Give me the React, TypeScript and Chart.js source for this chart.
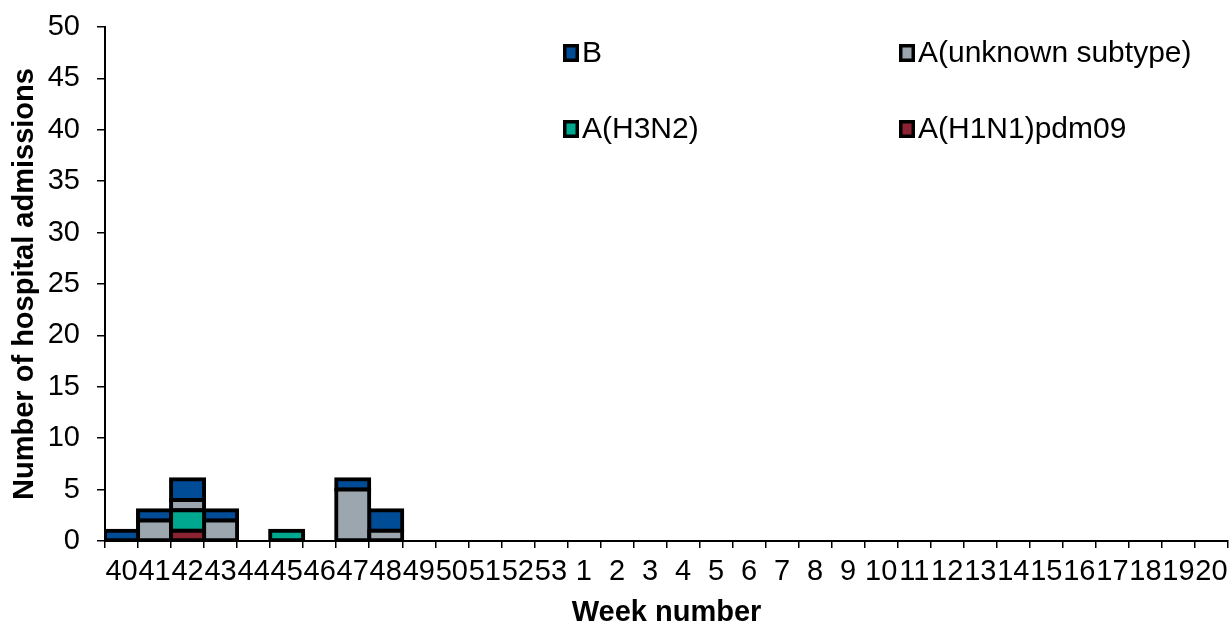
import React, { useEffect, useRef } from "react";
import { Chart, registerables } from "chart.js";

Chart.register(...registerables);

const weeks: string[] = [
  "40", "41", "42", "43", "44", "45", "46", "47", "48", "49", "50", "51", "52", "53",
  "1", "2", "3", "4", "5", "6", "7", "8", "9", "10", "11", "12", "13", "14", "15", "16", "17", "18", "19", "20",
];

// values per week (0 = no admissions)
const h1n1: number[] = [0, 0, 1, 0, 0, 0, 0, 0, 0, 0, 0, 0, 0, 0, 0, 0, 0, 0, 0, 0, 0, 0, 0, 0, 0, 0, 0, 0, 0, 0, 0, 0, 0, 0];
const h3n2: number[] = [0, 0, 2, 0, 0, 1, 0, 0, 0, 0, 0, 0, 0, 0, 0, 0, 0, 0, 0, 0, 0, 0, 0, 0, 0, 0, 0, 0, 0, 0, 0, 0, 0, 0];
const aUnknown: number[] = [0, 2, 1, 2, 0, 0, 0, 5, 1, 0, 0, 0, 0, 0, 0, 0, 0, 0, 0, 0, 0, 0, 0, 0, 0, 0, 0, 0, 0, 0, 0, 0, 0, 0];
const bValues: number[] = [1, 1, 2, 1, 0, 0, 0, 1, 2, 0, 0, 0, 0, 0, 0, 0, 0, 0, 0, 0, 0, 0, 0, 0, 0, 0, 0, 0, 0, 0, 0, 0, 0, 0];

const yTicks: number[] = [0, 5, 10, 15, 20, 25, 30, 35, 40, 45, 50];

const FONT = "'Liberation Sans', Arial, sans-serif";

const legendLayout = [
  { label: "B", x: 563, y: 53 },
  { label: "A(unknown subtype)", x: 899, y: 53 },
  { label: "A(H3N2)", x: 563, y: 129 },
  { label: "A(H1N1)pdm09", x: 899, y: 129 },
];

const legendPlugin = {
  id: "gridLegend",
  afterDraw(chart: any) {
    const ctx = chart.ctx;
    ctx.save();
    ctx.font = `30px ${FONT}`;
    ctx.textBaseline = "middle";
    ctx.textAlign = "left";
    for (const item of legendLayout) {
      const ds = chart.data.datasets.find((d: any) => d.label === item.label);
      if (!ds) continue;
      ctx.fillStyle = "#000";
      ctx.fillRect(item.x, item.y - 9, 16, 18);
      ctx.fillStyle = ds.backgroundColor;
      ctx.fillRect(item.x + 3.5, item.y - 5.5, 9, 11);
      ctx.fillStyle = "#000";
      ctx.fillText(item.label, item.x + 19, item.y + 1);
    }
    ctx.restore();
  },
};

const toData = (arr: number[]) => arr.map((v) => (v === 0 ? null : v));

export default function App() {
  const ref = useRef<HTMLCanvasElement | null>(null);
  useEffect(() => {
    if (!ref.current) return;
    const common = {
      borderColor: "#000",
      borderWidth: 4,
      borderSkipped: false,
      inflateAmount: 2,
      barPercentage: 1,
      categoryPercentage: 1,
      stack: "s",
    };
    const chart = new Chart(ref.current, {
      type: "bar",
      data: {
        labels: weeks,
        datasets: [
          { label: "A(H1N1)pdm09", data: toData(h1n1), backgroundColor: "#8C2333", ...common },
          { label: "A(H3N2)", data: toData(h3n2), backgroundColor: "#00A88F", ...common },
          { label: "A(unknown subtype)", data: toData(aUnknown), backgroundColor: "#9BA6AF", ...common },
          { label: "B", data: toData(bValues), backgroundColor: "#004C97", ...common },
        ] as any,
      },
      options: {
        animation: false,
        responsive: true,
        maintainAspectRatio: false,
        layout: { padding: { top: 27, right: 3, left: 0, bottom: 0 } },
        plugins: {
          legend: { display: false },
          tooltip: { enabled: false },
        },
        scales: {
          x: {
            stacked: true,
            afterFit: (s: any) => {
              s.height = 87;
              s.paddingLeft = 0;
              s.paddingRight = 0;
            },
            border: { color: "#000", width: 2 },
            grid: {
              display: true,
              drawOnChartArea: false,
              drawTicks: true,
              tickLength: 7,
              color: "#000",
              lineWidth: 1.5,
              offset: true,
            },
            ticks: {
              autoSkip: false,
              maxRotation: 0,
              minRotation: 0,
              color: "#000",
              padding: 7,
              font: { family: FONT, size: 29 },
            },
            title: {
              display: true,
              text: "Week number",
              color: "#000",
              font: { family: FONT, size: 29, weight: "bold" },
              padding: { top: 0, bottom: -2 },
            },
          },
          y: {
            stacked: true,
            min: 0,
            max: 50,
            afterFit: (s: any) => {
              s.width = 105;
              s.paddingTop = 0;
              s.paddingBottom = 0;
            },
            afterBuildTicks: (s: any) => {
              s.ticks = yTicks.map((v) => ({ value: v }));
            },
            border: { color: "#000", width: 2 },
            grid: {
              display: true,
              drawOnChartArea: false,
              drawTicks: true,
              tickLength: 8,
              color: "#000",
              lineWidth: 1.5,
            },
            ticks: {
              color: "#000",
              padding: 17,
              font: { family: FONT, size: 29 },
            },
            title: {
              display: true,
              text: "Number of hospital admissions",
              color: "#000",
              font: { family: FONT, size: 29, weight: "bold" },
              padding: { top: 8, bottom: 0 },
            },
          },
        },
      } as any,
      plugins: [legendPlugin],
    });
    return () => chart.destroy();
  }, []);
  return (
    <div style={{ position: "fixed", left: 0, top: 0, width: 1231, height: 628, background: "#fff" }}>
      <canvas ref={ref} />
    </div>
  );
}
